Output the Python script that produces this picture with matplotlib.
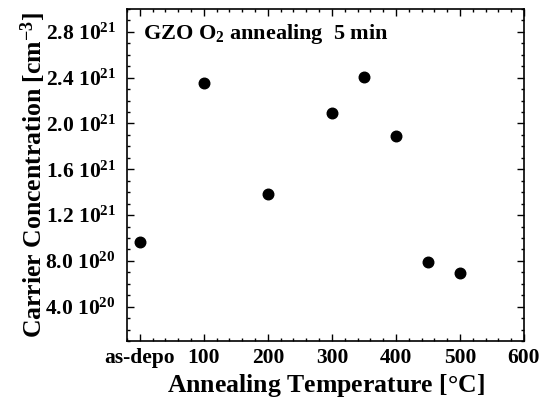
import matplotlib
matplotlib.use("Agg")
import matplotlib.pyplot as plt
from matplotlib.ticker import MultipleLocator

plt.rcParams['font.family'] = ['Liberation Serif', 'DejaVu Serif']
plt.rcParams['font.weight'] = 'bold'
plt.rcParams['mathtext.fontset'] = 'custom'
plt.rcParams['mathtext.rm'] = 'Liberation Serif:bold'
plt.rcParams['mathtext.it'] = 'Liberation Serif:bold'
plt.rcParams['mathtext.bf'] = 'Liberation Serif:bold'
plt.rcParams['mathtext.default'] = 'rm'

# data
temperature = [0, 100, 200, 300, 350, 400, 450, 500]   # 0 = as-depo
concentration = [0.965e21, 2.35e21, 1.38e21, 2.09e21, 2.41e21, 1.89e21, 0.79e21, 0.69e21]
x_ticks = [0, 100, 200, 300, 400, 500, 600]
x_tick_labels = ['as-depo', '100', '200', '300', '400', '500', '600']
y_ticks = [4.0e20, 8.0e20, 1.2e21, 1.6e21, 2.0e21, 2.4e21, 2.8e21]
y_tick_labels = ['4.0 10$^{20}$', '8.0 10$^{20}$', '1.2 10$^{21}$', '1.6 10$^{21}$',
                 '2.0 10$^{21}$', '2.4 10$^{21}$', '2.8 10$^{21}$']

fig = plt.figure(figsize=(5.44, 4.05), dpi=100)
ax = fig.add_axes([127/544, 1 - 341/405, (524-127)/544, (341-9)/405])

ax.plot(temperature, concentration, 'o', color='black', ms=7.6, mec='black')

ax.set_xlim(-20, 600)
ax.set_ylim(1.0e20, 3.0e21)
ax.set_xticks(x_ticks)
ax.set_xticklabels(x_tick_labels)
ax.set_yticks(y_ticks)
ax.set_yticklabels(y_tick_labels)
ax.xaxis.set_minor_locator(MultipleLocator(20))
ax.yaxis.set_minor_locator(MultipleLocator(1e20))

ax.tick_params(which='both', direction='in', top=True, right=True, width=1.0, color='black')
ax.tick_params(which='major', length=5, labelsize=15.5)
ax.tick_params(axis='y', which='major', pad=8)
ax.tick_params(axis='x', which='major', pad=5)
ax.tick_params(which='minor', length=2.5)
for s in ax.spines.values():
    s.set_linewidth(1.2)

ax.set_xlabel('Annealing Temperature [$\\degree$C]', fontsize=18.5, fontweight='bold', labelpad=3)
ax.set_ylabel('Carrier Concentration [cm$^{-3}$]', fontsize=18.5, fontweight='bold')
ax.yaxis.set_label_coords(-0.2, 0.5)

ax.text(0.04, 0.962, 'GZO O$_2$ annealing  5 min', transform=ax.transAxes,
        fontsize=16, fontweight='bold', ha='left', va='top')

fig.savefig('out.png', dpi=100)
